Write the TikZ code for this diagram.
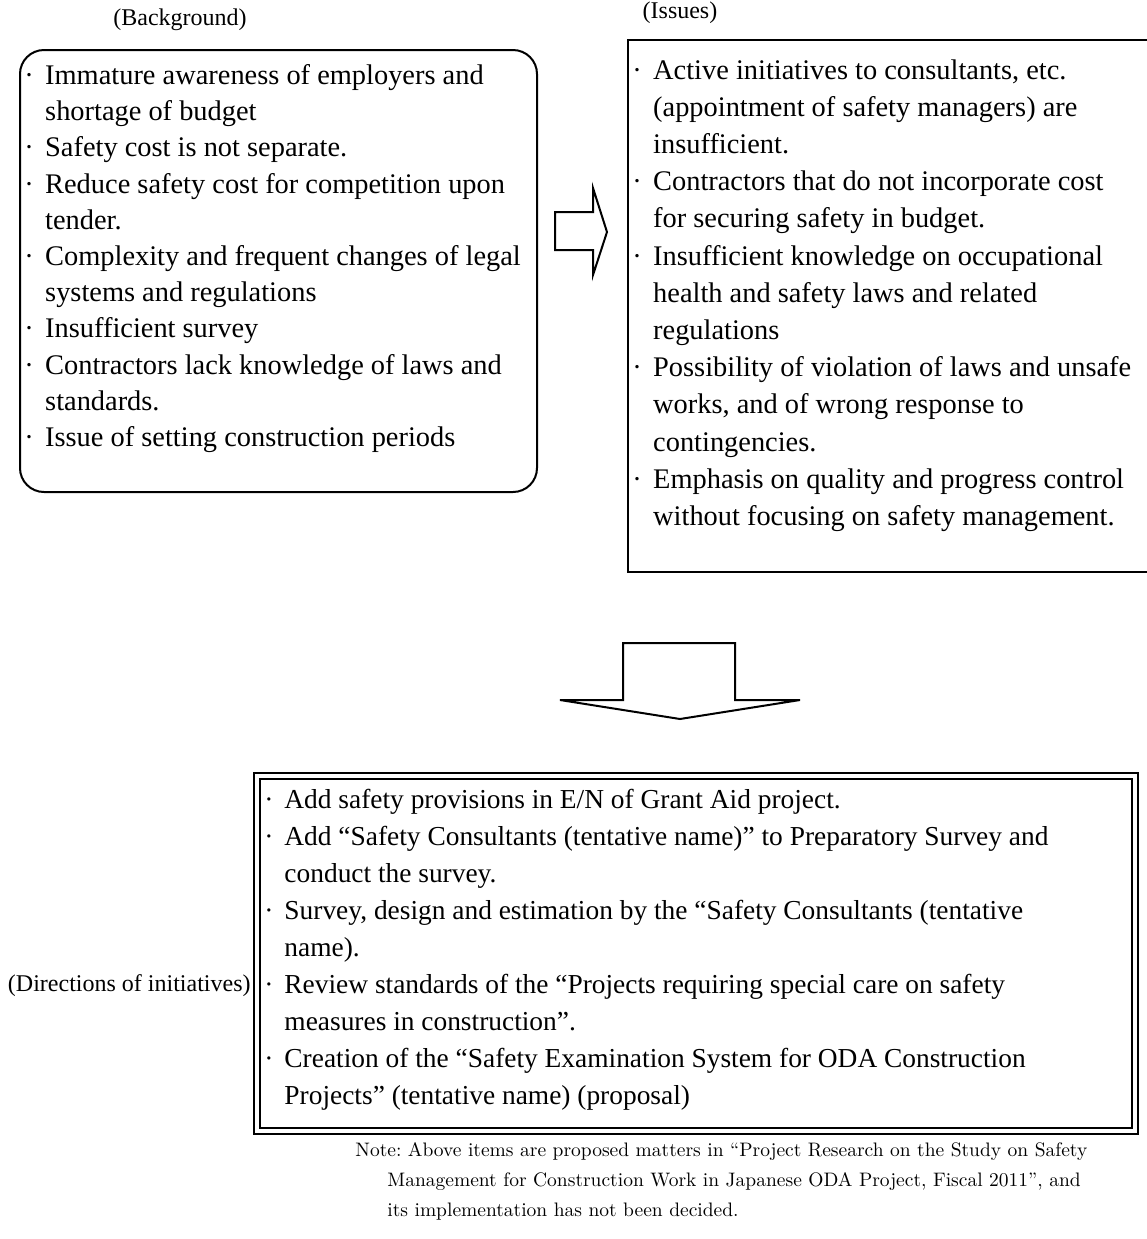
\documentclass[tikz,border=0pt]{standalone}
\usepackage{fontspec}
\setmainfont{Liberation Serif}
\newfontfamily\notefont{Latin Modern Roman}
\tikzset{
  boxtext/.style={anchor=north west, inner sep=0pt, align=left,
    font=\fontsize{14.2}{18.1}\selectfont},
  headtext/.style={inner sep=0pt, font=\fontsize{12}{14}\selectfont},
  blockarrow/.style={draw, line width=1pt, line join=miter},
}
\newcommand{\itm}{\textperiodcentered\hspace{0.4em}}
\newcommand{\cnt}{\phantom{\textperiodcentered}\hspace{0.4em}}
\begin{document}
\begin{tikzpicture}[x=0.5pt, y=-0.5pt]
  \useasboundingbox (0,0) rectangle (1147,1239);
  % Background
  \node[headtext] (bglabel) at (180,20) {(Background)};
  \draw[line width=1pt, rounded corners=12pt] (20,50) rectangle (537,492);
  \node[boxtext] (bgtext) at (24,64) {%
    \itm Immature awareness of employers and\\
    \cnt shortage of budget\\
    \itm Safety cost is not separate.\\
    \itm Reduce safety cost for competition upon\\
    \cnt tender.\\
    \itm Complexity and frequent changes of legal\\
    \cnt systems and regulations\\
    \itm Insufficient survey\\
    \itm Contractors lack knowledge of laws and\\
    \cnt standards.\\
    \itm Issue of setting construction periods};
  % arrow to issues
  \draw[blockarrow] (555,212) -- (593,212) -- (593,188) -- (607,232)
    -- (593,275) -- (593,250) -- (555,250) -- cycle;
  % Issues
  \node[headtext] (islabel) at (680,13) {(Issues)};
  \draw[line width=1pt] (628,40) rectangle (1170,572);
  \node[boxtext, font=\fontsize{14.2}{18.6}\selectfont] (istext) at (632,59) {%
    \itm Active initiatives to consultants, etc.\\
    \cnt (appointment of safety managers) are\\
    \cnt insufficient.\\
    \itm Contractors that do not incorporate cost\\
    \cnt for securing safety in budget.\\
    \itm Insufficient knowledge on occupational\\
    \cnt health and safety laws and related\\
    \cnt regulations\\
    \itm Possibility of violation of laws and unsafe\\
    \cnt works, and of wrong response to\\
    \cnt contingencies.\\
    \itm Emphasis on quality and progress control\\
    \cnt without focusing on safety management.};
  % arrow down
  \draw[blockarrow] (623,700) -- (623,643) -- (735,643) -- (735,700)
    -- (800,700) -- (680,719) -- (560,700) -- cycle;
  % Directions of initiatives
  \draw[line width=1.4pt] (254,773) rectangle (1138,1134);
  \draw[line width=1.1pt] (260,779) rectangle (1132,1128);
  \node[boxtext, font=\fontsize{13.7}{18.5}\selectfont] (dirtext) at (264,789) {%
    \itm Add safety provisions in E/N of Grant Aid project.\\
    \itm Add “Safety Consultants (tentative name)” to Preparatory Survey and\\
    \cnt conduct the survey.\\
    \itm Survey, design and estimation by the “Safety Consultants (tentative\\
    \cnt name).\\
    \itm Review standards of the “Projects requiring special care on safety\\
    \cnt measures in construction”.\\
    \itm Creation of the “Safety Examination System for ODA Construction\\
    \cnt Projects” (tentative name) (proposal)};
  \node[headtext, anchor=east] (dirlabel) at (251,986) {(Directions of initiatives)};
  % note
  \node[anchor=north west, inner sep=0pt, align=left,
    font=\notefont\fontsize{9.75}{15}\selectfont\frenchspacing] (note) at (355,1142) {%
    Note: Above items are proposed matters in “Project Research on the Study on Safety\\
    \hspace{16pt}Management for Construction Work in Japanese ODA Project, Fiscal 2011”, and\\
    \hspace{16pt}its implementation has not been decided.};
\end{tikzpicture}
\end{document}
